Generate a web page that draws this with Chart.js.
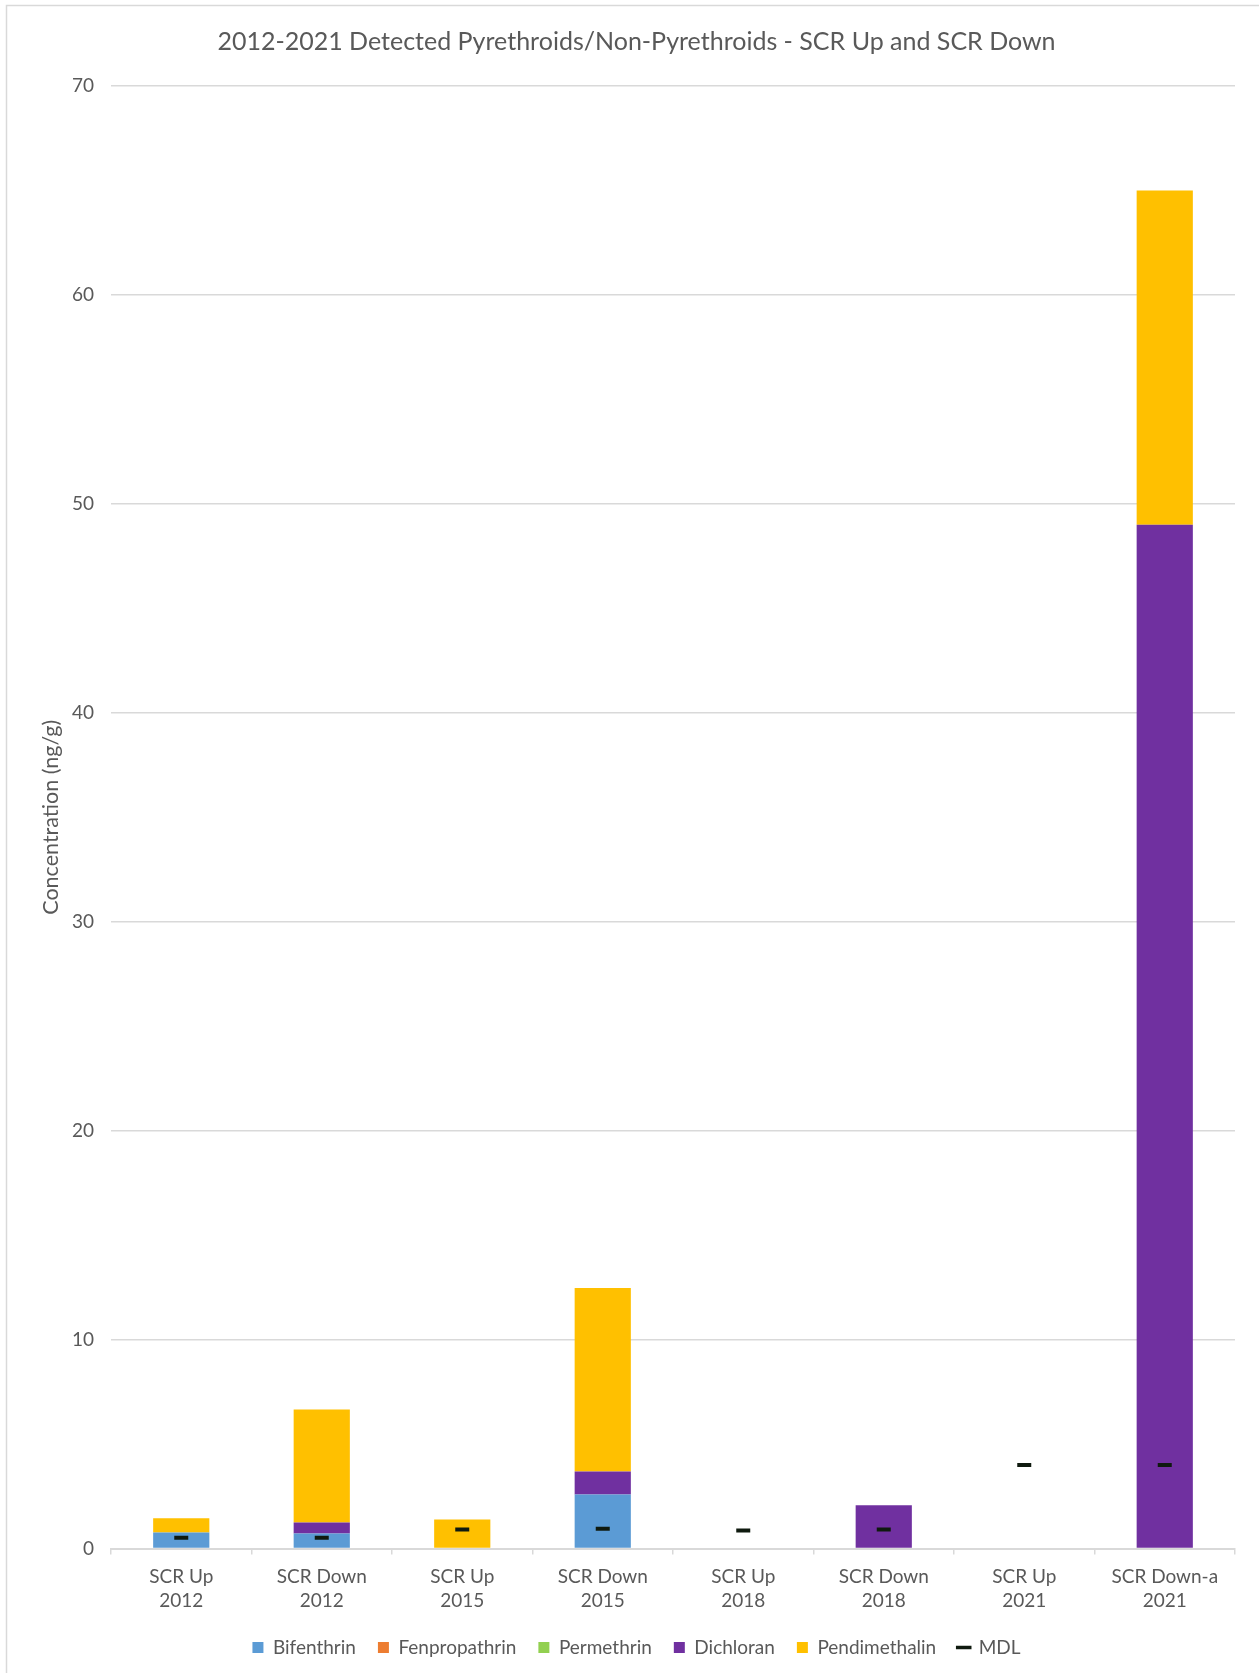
<!DOCTYPE html>
<html>
<head>
<meta charset="utf-8">
<script src="https://cdn.jsdelivr.net/npm/chart.js@4.4.1/dist/chart.umd.min.js"></script>
<style>
  html, body { margin: 0; padding: 0; background: #ffffff; }
  #wrap { width: 1259px; height: 1673px; }
</style>
</head>
<body>
<div id="wrap"><canvas id="c" width="1259" height="1673"></canvas></div>
<script>
// ---- data ----
const categories = [
  ["SCR Up", "2012"], ["SCR Down", "2012"], ["SCR Up", "2015"], ["SCR Down", "2015"],
  ["SCR Up", "2018"], ["SCR Down", "2018"], ["SCR Up", "2021"], ["SCR Down-a", "2021"]
];
const bifenthrin    = [0.77, 0.72, 0, 2.59, 0, 0, 0, 0];
const fenpropathrin = [0, 0, 0, 0, 0, 0, 0, 0];
const permethrin    = [0, 0, 0, 0, 0, 0, 0, 0];
const dichloran     = [0, 0.53, 0, 1.10, 0, 2.07, 0, 49];
const pendimethalin = [0.68, 5.40, 1.39, 8.78, 0, 0, 0, 16];
const mdl           = [0.51, 0.51, 0.91, 0.94, 0.86, 0.91, 4.0, 4.0];
const yTicks        = [0, 10, 20, 30, 40, 50, 60, 70];

const FONT = "Lato, 'Open Sans', sans-serif";
const TXT = "#595959";
const GRID = "#d9d9d9";

const borderPlugin = {
  id: 'frame',
  beforeDraw(chart) {
    const ctx = chart.ctx;
    ctx.save();
    ctx.fillStyle = '#ffffff';
    ctx.fillRect(0, 0, chart.width, chart.height);
    ctx.strokeStyle = GRID;
    ctx.lineWidth = 1.5;
    ctx.beginPath();
    ctx.moveTo(6.5, chart.height + 5);
    ctx.lineTo(6.5, 5.5);
    ctx.lineTo(chart.width + 5, 5.5);
    ctx.stroke();
    ctx.restore();
  }
};

const barDs = (label, data, color) => ({
  type: 'bar', label, data, backgroundColor: color, borderWidth: 0,
  stack: 'bars', barPercentage: 0.4, categoryPercentage: 1.0, order: 2
});

new Chart(document.getElementById('c'), {
  data: {
    labels: categories,
    datasets: [
      barDs('Bifenthrin', bifenthrin, '#5B9BD5'),
      barDs('Fenpropathrin', fenpropathrin, '#ED7D31'),
      barDs('Permethrin', permethrin, '#92D050'),
      barDs('Dichloran', dichloran, '#7030A0'),
      barDs('Pendimethalin', pendimethalin, '#FFC000'),
      {
        type: 'line', label: 'MDL', data: mdl, stack: 'mdl', showLine: false,
        pointStyle: 'line', pointRadius: 7, pointHoverRadius: 7,
        pointBorderWidth: 4, borderColor: '#0f1a0f', backgroundColor: '#0f1a0f', order: 1
      }
    ]
  },
  options: {
    responsive: false,
    animation: false,
    events: [],
    layout: { padding: { left: 38, right: 24, top: 0, bottom: 6 } },
    plugins: {
      title: {
        display: true,
        text: '2012-2021 Detected Pyrethroids/Non-Pyrethroids - SCR Up and SCR Down',
        color: TXT,
        font: { family: FONT, size: 25, weight: 'normal', lineHeight: 1.2 },
        padding: { top: 27, bottom: 29 }
      },
      legend: {
        position: 'bottom',
        labels: {
          usePointStyle: true, boxWidth: 11, boxHeight: 11, padding: 22,
          color: TXT, font: { family: FONT, size: 19 },
          generateLabels(chart) {
            return chart.data.datasets.map((ds, i) => {
              const isLine = ds.type === 'line';
              return {
                text: ds.label,
                fillStyle: isLine ? '#0f1a0f' : ds.backgroundColor,
                strokeStyle: isLine ? '#0f1a0f' : ds.backgroundColor,
                lineWidth: isLine ? 3.5 : 0,
                pointStyle: isLine ? 'line' : 'rect',
                fontColor: TXT,
                hidden: false,
                datasetIndex: i
              };
            });
          }
        }
      },
      tooltip: { enabled: false }
    },
    scales: {
      x: {
        stacked: true,
        offset: true,
        afterFit(scale) { scale.height = 67.5; },
        grid: { display: true, drawOnChartArea: false, drawTicks: true, tickLength: 6, color: GRID, lineWidth: 1.5, offset: true },
        border: { display: true, color: GRID, width: 2 },
        ticks: { color: TXT, font: { family: FONT, size: 19, lineHeight: '24px' }, padding: 10, maxRotation: 0, autoSkip: false }
      },
      y: {
        stacked: true,
        min: 0, max: 70,
        afterFit(scale) { scale.width = 73; },
        afterBuildTicks(scale) { scale.ticks = yTicks.map(v => ({ value: v })); },
        grid: { color: GRID, lineWidth: 1.5, drawTicks: false },
        border: { display: false },
        ticks: { color: TXT, font: { family: FONT, size: 19 }, padding: 17 },
        title: {
          display: true, text: 'Concentration (ng/g)', color: TXT,
          font: { family: FONT, size: 21.5, weight: 'normal', lineHeight: 1.2 },
          padding: { top: 0, bottom: 0 }
        }
      }
    }
  },
  plugins: [borderPlugin]
});
</script>
</body>
</html>
